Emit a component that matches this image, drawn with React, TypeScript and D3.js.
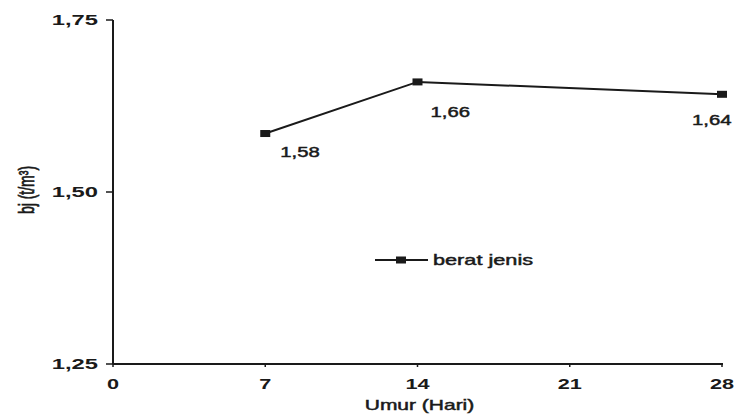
import React from "react";
import * as d3 from "d3";

const days = [7, 14, 28];
const beratJenis = [1.585, 1.66, 1.642];
const pointLabels = ["1,58", "1,66", "1,64"];
const xTicks = [0, 7, 14, 21, 28];
const yTicks = [1.25, 1.5, 1.75];
const yTickLabels = ["1,25", "1,50", "1,75"];
const xTitle = "Umur (Hari)";
const yTitle = "bj (t/m³)";
const seriesName = "berat jenis";

// layout-only offsets for the value labels (dx, dy from marker)
const labelOffsets: [number, number][] = [
  [15, 23],
  [13, 35],
  [-30, 31],
];

const W = 736;
const H = 414;
const FONT = "'Liberation Sans', Arial, sans-serif";
const INK = "#1a1a1a";

function SText({ x, y, sx, anchor = "start", size = 14, weight = 700, children }: any) {
  return (
    <g transform={`translate(${x},${y}) scale(${sx},1)`}>
      <text
        x={0}
        y={0}
        textAnchor={anchor}
        fontSize={size}
        fontWeight={weight}
        fontFamily={FONT}
        fill={INK}
        stroke={weight < 700 ? INK : "none"}
        strokeWidth={weight < 700 ? 0.45 : 0}
      >
        {children}
      </text>
    </g>
  );
}

export default function App() {
  const x = d3.scaleLinear().domain([0, 28]).range([113, 722]);
  const y = d3.scaleLinear().domain([1.25, 1.75]).range([364, 20]);
  const line = d3
    .line<number>()
    .x((_, i) => x(days[i]))
    .y((d) => y(d));

  const legendY = 260;
  return (
    <svg
      width={W}
      height={H}
      style={{ position: "absolute", left: 0, top: 0, background: "#fff" }}
    >
      {/* axes */}
      <line x1={x(0)} x2={x(0)} y1={y(1.75)} y2={y(1.25)} stroke={INK} strokeWidth={2} />
      <line x1={x(0)} x2={x(28) + 1} y1={y(1.25)} y2={y(1.25)} stroke={INK} strokeWidth={2} />
      {yTicks.map((t, i) => (
        <g key={t}>
          <line x1={x(0) - 7} x2={x(0)} y1={y(t)} y2={y(t)} stroke={INK} strokeWidth={1.5} />
          <SText x={98} y={y(t) + 5} sx={1.7} anchor="end">
            {yTickLabels[i]}
          </SText>
        </g>
      ))}
      {xTicks.map((t) => (
        <g key={t}>
          <line x1={x(t)} x2={x(t)} y1={y(1.25)} y2={y(1.25) + 3} stroke={INK} strokeWidth={1.5} />
          <SText x={x(t)} y={389} sx={1.55} anchor="middle">
            {String(t)}
          </SText>
        </g>
      ))}
      <SText x={(x(0) + x(28)) / 2 + 2} y={410} sx={1.5} anchor="middle" weight={400}>
        {xTitle}
      </SText>
      <g transform={`translate(34,190) scale(1.6,1) rotate(-90)`}>
        <text
          x={0}
          y={0}
          textAnchor="middle"
          fontSize={14}
          fontWeight={400}
          fontFamily={FONT}
          fill={INK}
          stroke={INK}
          strokeWidth={0.45}
        >
          {yTitle}
        </text>
      </g>

      {/* series */}
      <path d={line(beratJenis) || ""} fill="none" stroke={INK} strokeWidth={2} />
      {beratJenis.map((v, i) => (
        <rect key={i} x={x(days[i]) - 5} y={y(v) - 3.5} width={10} height={7} fill={INK} />
      ))}
      {beratJenis.map((v, i) => (
        <SText key={"l" + i} x={x(days[i]) + labelOffsets[i][0]} y={y(v) + labelOffsets[i][1]} sx={1.45} weight={400}>
          {pointLabels[i]}
        </SText>
      ))}

      {/* legend */}
      <line x1={375} x2={428} y1={legendY} y2={legendY} stroke={INK} strokeWidth={2} />
      <rect x={396} y={legendY - 3.5} width={10} height={7} fill={INK} />
      <SText x={433} y={legendY + 5} sx={1.55} weight={400}>
        {seriesName}
      </SText>
    </svg>
  );
}
